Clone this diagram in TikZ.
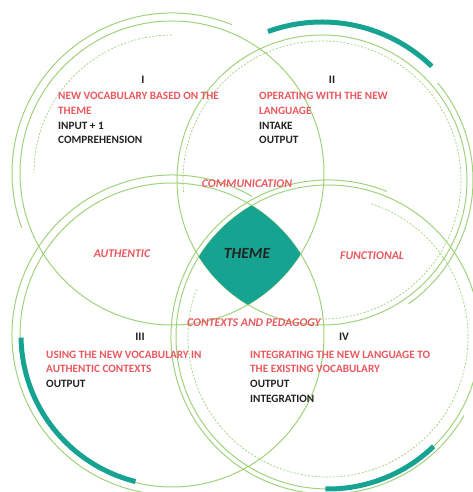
\documentclass[tikz,border=0pt]{standalone}
\usepackage{fontspec}
\setmainfont{Carlito}
\usetikzlibrary{positioning}
\definecolor{ringgreen}{HTML}{9FD27A}
\definecolor{themeteal}{HTML}{17A392}
\definecolor{labelred}{HTML}{E9585D}
\definecolor{textblack}{HTML}{222222}
\tikzset{
  ring/.style={draw=ringgreen, line width=1pt},
  dashring/.style={draw=ringgreen, line width=0.7pt, dash pattern=on 2pt off 1.6pt},
  tealring/.style={draw=themeteal, line width=5pt},
  numeral/.style={inner sep=0pt, anchor=base, text=textblack, font=\fontsize{11.5}{14}\selectfont\bfseries},
  textblock/.style={inner sep=0pt, align=left, anchor=north west, text=textblack, font=\fontsize{11.2}{14.8}\selectfont\bfseries},
  handlabel/.style={inner sep=0pt, text=labelred, font=\fontsize{11.8}{13}\selectfont\bfseries\itshape}
}

\begin{document}
\begin{tikzpicture}[x=1pt, y=1pt]
    \clip (0,0) rectangle (473,492);
    \coordinate (cI) at (172,319);
    \coordinate (cII) at (322,312);
    \coordinate (cIII) at (172,157);
    \coordinate (cIV) at (328,155);

    % circle I
    \draw [ring] (cI) circle (152);
    \draw [ring] (cI) ++(68:160) arc (68:200:160);
    \draw [dashring] (cI) ++(90:138) arc (90:180:138);
    % circle II
    \draw [ring] (cII) circle (145);
    \draw [ring] (cII) ++(40:151) arc (40:-55:151);
    \draw [dashring] (cII) ++(185:139) arc (185:-95:139);
    \draw [tealring] (cII) ++(110:158) arc (110:46:158);
    % circle III
    \draw [ring] (cIII) circle (152);
    \draw [ring] (cIII) ++(60:160) arc (60:280:160);
    \draw [tealring] (cIII) ++(181:151) arc (181:256:151);
    % circle IV
    \draw [ring] (cIV) circle (152);
    \draw [ring] (cIV) ++(68:157) arc (68:330:157);
    \draw [dashring] (cIV) ++(72:140) arc (72:-200:140);
    \draw [tealring] (cIV) ++(269:152) arc (269:314:152);

    % where all four overlap
    \begin{scope}
        \clip (cI) circle (152);
        \clip (cII) circle (145);
        \clip (cIII) circle (152);
        \fill [themeteal] (cIV) circle (152);
    \end{scope}

    \node (theme) [handlabel, text=textblack, font=\fontsize{15.5}{17}\selectfont\bfseries\itshape] at (247,239) {THEME};
    \node (communication) [handlabel, above=60pt of theme] {COMMUNICATION};
    \node (contexts) [handlabel, below=60pt of theme, xshift=7pt] {CONTEXTS AND PEDAGOGY};
    \node (authentic) [handlabel] at (122,238) {AUTHENTIC};
    \node (functional) [handlabel] at (372,236) {FUNCTIONAL};

    \node (blockI) [textblock] at (58,400) {\textcolor{labelred}{NEW VOCABULARY BASED ON THE}\\ \textcolor{labelred}{THEME}\\ INPUT + 1\\ COMPREHENSION};
    \node (blockII) [textblock] at (259,400) {\textcolor{labelred}{OPERATING WITH THE NEW}\\ \textcolor{labelred}{LANGUAGE}\\ INTAKE\\ OUTPUT};
    \node (blockIII) [textblock] at (46,141.5) {\textcolor{labelred}{USING THE NEW VOCABULARY IN}\\ \textcolor{labelred}{AUTHENTIC CONTEXTS}\\ OUTPUT};
    \node (blockIV) [textblock] at (250,141.5) {\textcolor{labelred}{INTEGRATING THE NEW LANGUAGE TO}\\ \textcolor{labelred}{THE EXISTING VOCABULARY}\\ OUTPUT\\ INTEGRATION};

    \node (numI) [numeral] at (143,408) {I};
    \node (numII) [numeral] at (332,408) {II};
    \node (numIII) [numeral] at (140,151) {III};
    \node (numIV) [numeral] at (344,151) {IV};
\end{tikzpicture}
\end{document}
